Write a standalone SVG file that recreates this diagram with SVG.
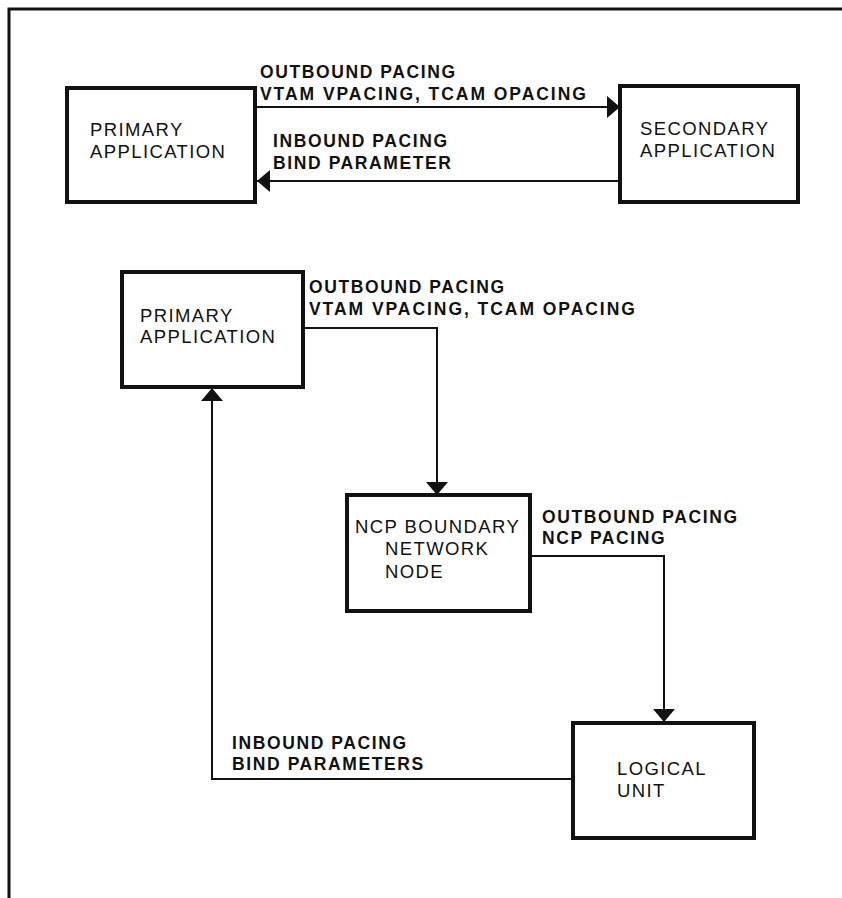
<svg xmlns="http://www.w3.org/2000/svg" width="842" height="898" viewBox="0 0 842 898">
  <style>
    .box { fill: #fff; stroke: #111; stroke-width: 4; }
    .wire { fill: none; stroke: #111; stroke-width: 2; }
    .frame { fill: none; stroke: #111; stroke-width: 3; }
    .node { font-family: "Liberation Sans", Arial, sans-serif; font-size: 18.5px; letter-spacing: 1.4px; fill: #111; }
    .lbl { font-family: "Liberation Sans", Arial, sans-serif; font-size: 17.5px; font-weight: bold; letter-spacing: 1.6px; fill: #111; }
    .wide { letter-spacing: 1.95px; }
  </style>
  <defs>
    <marker id="arrow" viewBox="0 0 13 22" refX="13" refY="11" markerWidth="13" markerHeight="22" markerUnits="userSpaceOnUse" orient="auto">
      <path d="M0,0 L13,11 L0,22 Z" fill="#111"/>
    </marker>
  </defs>

  <rect width="842" height="898" fill="#fff"/>

  <!-- page frame -->
  <path class="frame" d="M9,898 V9 H842"/>

  <!-- connectors -->
  <g id="connectors">
    <path class="wire" d="M257,107 H620" marker-end="url(#arrow)"/>
    <path class="wire" d="M620,181 H257" marker-end="url(#arrow)"/>
    <path class="wire" d="M303,328 H437 V495" marker-end="url(#arrow)"/>
    <path class="wire" d="M530,556 H664 V722" marker-end="url(#arrow)"/>
    <path class="wire" d="M573,779 H212 V388" marker-end="url(#arrow)"/>
  </g>

  <!-- connector labels -->
  <g id="labels">
    <text class="lbl" x="260" y="78">OUTBOUND PACING</text>
    <text class="lbl wide" x="260" y="100">VTAM VPACING, TCAM OPACING</text>
    <text class="lbl" x="273" y="147">INBOUND PACING</text>
    <text class="lbl" x="273" y="169">BIND PARAMETER</text>
    <text class="lbl" x="309" y="293">OUTBOUND PACING</text>
    <text class="lbl wide" x="309" y="315">VTAM VPACING, TCAM OPACING</text>
    <text class="lbl" x="542" y="523">OUTBOUND PACING</text>
    <text class="lbl" x="542" y="544">NCP PACING</text>
    <text class="lbl" x="232" y="749">INBOUND PACING</text>
    <text class="lbl" x="232" y="770">BIND PARAMETERS</text>
  </g>

  <g id="primary-top">
    <rect class="box" x="67" y="88" width="188" height="114"/>
    <text class="node" x="90" y="136">PRIMARY</text>
    <text class="node" x="90" y="158">APPLICATION</text>
  </g>

  <g id="secondary">
    <rect class="box" x="620" y="86" width="178" height="116"/>
    <text class="node" x="640" y="135">SECONDARY</text>
    <text class="node" x="640" y="157">APPLICATION</text>
  </g>

  <g id="primary-lower">
    <rect class="box" x="122" y="272" width="181" height="115"/>
    <text class="node" x="140" y="322">PRIMARY</text>
    <text class="node" x="140" y="343">APPLICATION</text>
  </g>

  <g id="ncp">
    <rect class="box" x="347" y="495" width="183" height="116"/>
    <text class="node" x="355" y="533">NCP BOUNDARY</text>
    <text class="node" x="385" y="555">NETWORK</text>
    <text class="node" x="385" y="578">NODE</text>
  </g>

  <g id="logical-unit">
    <rect class="box" x="573" y="723" width="181" height="115"/>
    <text class="node" x="617" y="775">LOGICAL</text>
    <text class="node" x="617" y="797">UNIT</text>
  </g>
</svg>
